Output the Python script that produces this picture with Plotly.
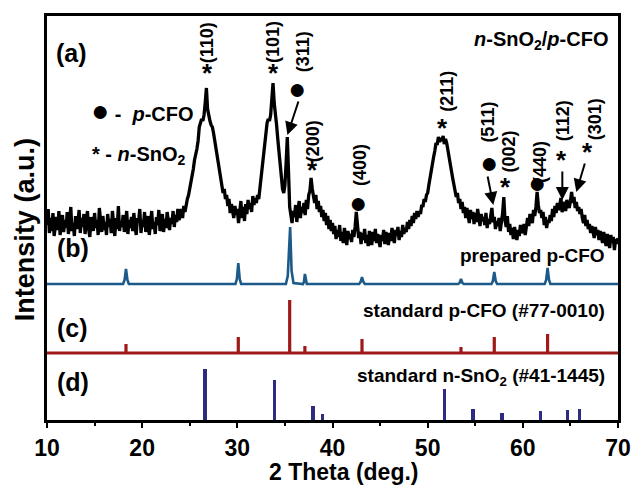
import plotly.graph_objects as go

# ---------------- data ----------------
# (a) n-SnO2/p-CFO measured pattern, 2theta 10 -> 70, step 0.125 (one row = 1 degree)
a_start, a_step = 10.0, 0.125
a_int = [
    196, 212, 188, 203, 190, 208, 185, 199,  # 10
    204, 191, 210, 186, 197, 206, 189, 201,  # 11
    193, 209, 187, 200, 214, 190, 198, 185,  # 12
    205, 192, 199, 211, 188, 203, 194, 207,  # 13
    187, 200, 210, 192, 184, 204, 197, 190,  # 14
    208, 193, 201, 186, 213, 195, 189, 205,  # 15
    191, 199, 186, 207, 194, 202, 188, 210,  # 16
    197, 185, 203, 192, 215, 190, 200, 194,  # 17
    206, 189, 198, 210, 187, 201, 193, 204,  # 18
    190, 208, 195, 186, 203, 199, 212, 188,  # 19
    201, 194, 209, 189, 197, 205, 186, 200,  # 20
    210, 192, 199, 187, 204, 196, 211, 190,  # 21
    195, 207, 189, 202, 193, 209, 198, 191,  # 22
    203, 197, 210, 194, 206, 199, 212, 201,  # 23
    206, 212, 203, 215, 209, 218, 222, 226,  # 24
    232, 238, 246, 252, 261, 266, 272, 280,  # 25
    294, 298, 302, 300, 306, 318, 333, 312,  # 26
    304, 300, 296, 294, 288, 280, 272, 265,  # 27
    261, 252, 243, 236, 228, 232, 222, 226,  # 28
    215, 222, 208, 217, 210, 203, 215, 206,  # 29
    212, 198, 209, 220, 203, 214, 200, 217,  # 30
    207, 221, 212, 218, 209, 225, 216, 223,  # 31
    218, 226, 222, 234, 246, 258, 266, 280,  # 32
    292, 298, 302, 300, 306, 326, 338, 318,  # 33
    302, 296, 282, 268, 252, 240, 232, 228,  # 34
    236, 258, 284, 250, 214, 206, 198, 210,  # 35
    204, 216, 199, 211, 220, 203, 214, 208,  # 36
    218, 206, 221, 212, 226, 230, 243, 232,  # 37
    224, 218, 226, 212, 220, 209, 215, 204,  # 38
    211, 200, 208, 196, 205, 192, 201, 190,  # 39
    198, 187, 195, 182, 191, 184, 196, 180,  # 40
    189, 178, 193, 185, 176, 190, 182, 187,  # 41
    179, 191, 184, 194, 209, 196, 183, 189,  # 42
    177, 188, 181, 192, 178, 186, 175, 190,  # 43
    183, 176, 189, 180, 192, 178, 187, 181,  # 44
    174, 186, 180, 191, 177, 189, 183, 176,  # 45
    188, 180, 193, 182, 178, 191, 185, 194,  # 46
    181, 190, 184, 196, 187, 193, 189, 199,  # 47
    192, 201, 195, 205, 198, 208, 202, 210,  # 48
    204, 210, 207, 216, 214, 222, 219, 226,  # 49
    228, 236, 244, 250, 258, 264, 270, 278,  # 50
    276, 284, 279, 283, 280, 285, 277, 282,  # 51
    278, 272, 266, 258, 250, 243, 236, 230,  # 52
    224, 228, 218, 222, 212, 219, 208, 214,  # 53
    203, 213, 206, 198, 211, 202, 209, 197,  # 54
    208, 199, 212, 203, 195, 207, 200, 204,  # 55
    196, 208, 193, 202, 197, 205, 213, 199,  # 56
    204, 192, 200, 195, 203, 190, 199, 208,  # 57
    224, 201, 194, 205, 189, 197, 186, 193,  # 58
    182, 194, 187, 181, 191, 185, 196, 188,  # 59
    190, 197, 186, 199, 203, 195, 207, 202,  # 60
    198, 211, 205, 214, 229, 216, 208, 211,  # 61
    203, 209, 196, 204, 193, 201, 198, 206,  # 62
    200, 212, 204, 215, 208, 218, 211, 216,  # 63
    223, 209, 214, 219, 210, 221, 216, 213,  # 64
    220, 229, 218, 224, 213, 219, 210, 214,  # 65
    207, 212, 203, 198, 206, 195, 201, 192,  # 66
    197, 188, 195, 190, 183, 194, 186, 191,  # 67
    181, 190, 185, 178, 189, 182, 175, 187,  # 68
    180, 173, 186, 178, 184, 171, 182, 177,  # 69
    183,                                     # 70
]
a_theta = [a_start + a_step * i for i in range(len(a_int))]

# (b) prepared p-CFO
b_theta = [10, 18.0, 18.15, 18.3, 18.45, 18.6,
           29.8, 29.95, 30.1, 30.25, 30.4,
           35.1, 35.3, 35.45, 35.55, 35.7, 35.9,
           36.9, 37.0, 37.1, 37.2, 37.3,
           42.8, 42.95, 43.1, 43.25, 43.4,
           53.2, 53.35, 53.5, 53.65, 53.8,
           56.7, 56.85, 57.0, 57.15, 57.3,
           62.3, 62.45, 62.6, 62.75, 62.9, 70]
b_int = [137, 137, 141, 152, 141, 137,
         137, 142, 158, 142, 137,
         137, 145, 185, 194, 150, 138,
         137, 139, 147, 139, 137,
         137, 139, 144, 139, 137,
         137, 138, 142, 138, 137,
         137, 140, 149, 140, 137,
         137, 141, 153, 141, 137, 137]

# (c) standard p-CFO (#77-0010)
c_base = 68
c_pos = [18.3, 30.1, 35.5, 37.1, 43.1, 53.5, 57.0, 62.6]
c_int = [77, 84, 121, 75, 82, 74, 84, 87]

# (d) standard n-SnO2 (#41-1445)
d_pos = [26.61, 33.89, 37.95, 38.97, 51.78, 54.76, 57.82, 61.87, 64.72, 65.94]
d_int = [52, 41, 15, 7, 32, 12, 8, 10, 11, 12]

# peak labels
pk_text = ["(110)", "(101)", "(311)", "(200)", "(400)", "(211)", "(511)", "(002)", "(440)", "(112)", "(301)"]
pk_tx = [26.84, 33.75, 36.93, 37.98, 42.9, 52.0, 56.3, 58.5, 61.8, 64.25, 67.6]
pk_ty = [378, 379, 369, 280, 256, 330, 299, 269, 259, 300, 302]
pk_sym = ["*", "*", "●", "*", "●", "*", "●", "*", "●", "*", "*"]
pk_sx = [26.84, 33.75, 36.3, 37.9, 42.7, 51.6, 56.4, 58.2, 61.5, 64.1, 66.8]
pk_sy = [348, 348, 333, 251, 219, 293, 259, 234, 239, 261, 269]
# arrows (tail -> tip)
ar_tail_x = [36.47, 56.27, 64.15, 66.56]
ar_tail_y = [321, 246, 251, 259]
ar_tip_x = [35.26, 56.9, 64.15, 65.62]
ar_tip_y = [286, 216, 221, 229]

x_ticks = [10, 20, 30, 40, 50, 60, 70]

# ---------------- figure ----------------
FONT = "Liberation Sans, Arial, sans-serif"
fig = go.Figure()

# (c) stick pattern with baseline
cx, cy = [10], [c_base]
for p, h in zip(c_pos, c_int):
    cx += [p, p, p]
    cy += [c_base, h, c_base]
cx.append(70)
cy.append(c_base)
fig.add_trace(go.Scatter(x=cx, y=cy, mode="lines",
                         line=dict(color="#9e1a1a", width=3.2)))

# (d) sticks
fig.add_trace(go.Bar(x=d_pos, y=d_int, width=0.36,
                     marker=dict(color="#2e2c80", line=dict(width=0))))

# (b)
fig.add_trace(go.Scatter(x=b_theta, y=b_int, mode="lines",
                         line=dict(color="#1c5a8a", width=2.6)))
# (a)
fig.add_trace(go.Scatter(x=a_theta, y=a_int, mode="lines",
                         line=dict(color="black", width=3.3)))

ann = []
def txt(x, y, s, size, xanchor="left", angle=0, yanchor="middle"):
    ann.append(dict(x=x, y=y, xref="x", yref="y", text=s, showarrow=False,
                    xanchor=xanchor, yanchor=yanchor, textangle=angle,
                    font=dict(family=FONT, size=size, color="black", weight="bold")))

for t, x, y in zip(pk_text, pk_tx, pk_ty):
    txt(x, y, t, 18, xanchor="center", angle=-90)
for s, x, y in zip(pk_sym, pk_sx, pk_sy):
    txt(x, y, s, 26 if s == "*" else 30, xanchor="center")

for tx, ty, hx, hy in zip(ar_tail_x, ar_tail_y, ar_tip_x, ar_tip_y):
    ann.append(dict(x=hx, y=hy, ax=tx, ay=ty, xref="x", yref="y", axref="x", ayref="y",
                    text="", showarrow=True, arrowhead=2, arrowsize=1.3, arrowwidth=2,
                    arrowcolor="black", standoff=0, startstandoff=0))

txt(10.77, 368, "(a)", 25)
txt(10.85, 173, "(b)", 25)
txt(10.85, 93, "(c)", 25)
txt(10.85, 39, "(d)", 25)
txt(14.45, 311, "<span style='font-size:30px'>●</span> -  <i>p</i>-CFO", 20)
txt(14.55, 266, "* - <i>n</i>-SnO<sub>2</sub>", 20)
txt(69.2, 381, "<i>n</i>-SnO<sub>2</sub>/<i>p</i>-CFO", 20, xanchor="right")
txt(68.87, 166, "prepared p-CFO", 19, xanchor="right")
txt(68.87, 111, "standard p-CFO (#77-0010)", 19, xanchor="right")
txt(68.87, 44, "standard n-SnO<sub>2</sub> (#41-1445)", 19, xanchor="right")

# axis titles
ann.append(dict(x=0.521, y=-0.1634, xref="paper", yref="paper", text="2 Theta (deg.)",
                showarrow=False, xanchor="center", yanchor="bottom", borderpad=0,
                font=dict(family=FONT, size=23, color="black", weight="bold")))
ann.append(dict(x=-0.0385, y=0.47, xref="paper", yref="paper", text="Intensity (a.u.)",
                showarrow=False, xanchor="center", yanchor="middle", textangle=-90,
                font=dict(family=FONT, size=27, color="black", weight="bold")))

fig.update_layout(
    width=634, height=486, autosize=False,
    margin=dict(l=47, r=16, t=16, b=66, pad=0),
    paper_bgcolor="white", plot_bgcolor="white",
    showlegend=False, annotations=ann, bargap=0,
)
fig.update_xaxes(range=[10, 70], tickvals=x_ticks, ticktext=[str(v) for v in x_ticks],
                 showline=True, linecolor="black", linewidth=3, mirror=True, automargin=False,
                 ticks="outside", ticklen=5, tickwidth=2, tickcolor="black",
                 minor=dict(ticks="outside", ticklen=3, tickwidth=2, dtick=5, tick0=10, tickcolor="black"),
                 showgrid=False, zeroline=False,
                 tickfont=dict(family=FONT, size=23, color="black", weight="bold"))
fig.update_yaxes(range=[1, 405], showline=True, linecolor="black", linewidth=3, mirror=True,
                 automargin=False, ticks="", showticklabels=False, showgrid=False, zeroline=False)

fig.write_html("out.html", config={"displayModeBar": False},
               post_script="document.body.style.margin='0';")
